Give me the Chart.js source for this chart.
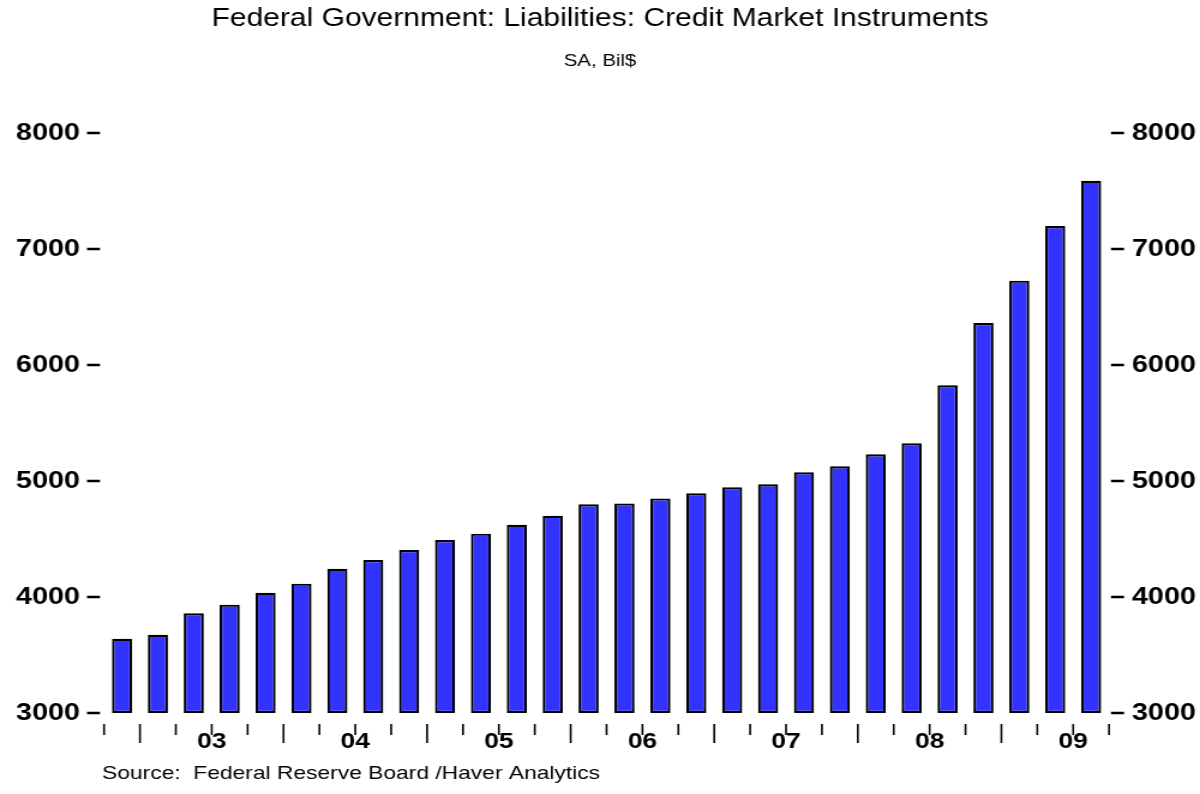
<html>
<head>
<title>Federal Government: Liabilities: Credit Market Instruments</title>
<meta charset="utf-8">
<script src="https://cdn.jsdelivr.net/npm/chart.js@4.4.0/dist/chart.umd.min.js"></script>
<style>
  body { margin: 0; background: #fff; overflow: hidden; }
  /* chart is laid out 1000px wide and widened to fill 1200px */
  #wrap { width: 1000px; height: 794px; transform: scaleX(1.2); transform-origin: 0 0; }
</style>
</head>
<body>
<div id="wrap"><canvas id="liabChart"></canvas></div>
<script>
// quarterly, SA, Bil$
var quarters = ['2002Q4',
  '2003Q1', '2003Q2', '2003Q3', '2003Q4',
  '2004Q1', '2004Q2', '2004Q3', '2004Q4',
  '2005Q1', '2005Q2', '2005Q3', '2005Q4',
  '2006Q1', '2006Q2', '2006Q3', '2006Q4',
  '2007Q1', '2007Q2', '2007Q3', '2007Q4',
  '2008Q1', '2008Q2', '2008Q3', '2008Q4',
  '2009Q1', '2009Q2', '2009Q3'];
var liabilities = [3640,
  3675, 3859, 3934, 4037,
  4115, 4244, 4319, 4405,
  4491, 4546, 4623, 4701,
  4799, 4807, 4850, 4894,
  4946, 4971, 5075, 5127,
  5230, 5325, 5825, 6362,
  6727, 7198, 7589];
var yearLabels = ['03', '04', '05', '06', '07', '08', '09'];
var yTicks = [3000, 4000, 5000, 6000, 7000, 8000];

var FONT = '"Liberation Sans", Arial, sans-serif';

// dashes next to the value labels, quarter ticks, year labels and source line
var axisMarks = {
  id: 'axisMarks',
  afterDraw: function(chart) {
    var ctx = chart.ctx, area = chart.chartArea;
    var x = chart.scales.x, y = chart.scales.y;
    ctx.save();
    ctx.strokeStyle = '#000';
    ctx.fillStyle = '#000';

    ctx.lineWidth = 2.6;
    yTicks.forEach(function(v) {
      var py = y.getPixelForValue(v);
      ctx.beginPath();
      ctx.moveTo(area.left - 14.2, py); ctx.lineTo(area.left - 3.4, py);
      ctx.moveTo(area.right + 1.6, py); ctx.lineTo(area.right + 12.5, py);
      ctx.stroke();
    });

    // quarter boundaries; the ones starting a year hang lower
    var w = x.getPixelForValue(1) - x.getPixelForValue(0);
    ctx.lineWidth = 1.6;
    for (var i = 0; i <= quarters.length; i++) {
      var bx = (i < quarters.length ? x.getPixelForValue(i) : x.getPixelForValue(i - 1) + w) - w / 2;
      var isQ1 = i < quarters.length && quarters[i].slice(4) == 'Q1';
      ctx.beginPath();
      ctx.moveTo(bx, 724);
      ctx.lineTo(bx, isQ1 ? 743 : 735);
      ctx.stroke();
    }

    // year label sits at mid-year (start of Q3)
    ctx.font = 'bold 22px ' + FONT;
    ctx.textAlign = 'center';
    ctx.textBaseline = 'alphabetic';
    yearLabels.forEach(function(yy) {
      var idx = quarters.indexOf('20' + yy + 'Q3');
      ctx.fillText(yy, x.getPixelForValue(idx) - w / 2, 748);
    });

    ctx.font = '19px ' + FONT;
    ctx.textAlign = 'left';
    ctx.fillText('Source:  Federal Reserve Board /Haver Analytics', 85, 779);
    ctx.restore();
  }
};

function plainNumber(v) { return String(v); }

var ctx = document.getElementById('liabChart').getContext('2d');
var liabChart = new Chart(ctx, {
  type: 'bar',
  data: {
    labels: quarters,
    datasets: [{
      label: 'Credit Market Instruments',
      data: liabilities,
      base: 3000,
      backgroundColor: '#3333ff',
      borderColor: '#000',
      borderWidth: 2.2,
      borderSkipped: false,
      barPercentage: 0.56,
      categoryPercentage: 1,
      clip: false
    }]
  },
  options: {
    responsive: true,
    maintainAspectRatio: false,
    animation: false,
    layout: { padding: 0 },
    plugins: {
      legend: { display: false },
      tooltip: { enabled: false },
      title: {
        display: true,
        text: 'Federal Government: Liabilities: Credit Market Instruments',
        color: '#000',
        font: { family: FONT, size: 25, weight: 'normal', lineHeight: 1.2 },
        padding: { top: 4, bottom: 17 }
      },
      subtitle: {
        display: true,
        text: 'SA, Bil$',
        color: '#000',
        font: { family: FONT, size: 17, weight: 'normal', lineHeight: 1.2 },
        padding: { top: 0, bottom: 61.6 }
      }
    },
    scales: {
      x: {
        offset: true,
        grid: { display: false },
        border: { display: false },
        ticks: { display: false },
        afterFit: function(s) { s.height = 81; }
      },
      y: {
        position: 'left',
        min: 3000, max: 8000,
        grid: { display: false, drawTicks: false },
        border: { display: false },
        ticks: { stepSize: 1000, padding: 20, color: '#000', callback: plainNumber,
                 font: { family: FONT, size: 24, weight: 'bold' } },
        afterFit: function(s) { s.width = 86.7; }
      },
      y2: {
        position: 'right',
        min: 3000, max: 8000,
        grid: { display: false, drawTicks: false },
        border: { display: false },
        ticks: { stepSize: 1000, padding: 19, color: '#000', callback: plainNumber,
                 font: { family: FONT, size: 24, weight: 'bold' } },
        afterFit: function(s) { s.width = 75.8; }
      }
    }
  },
  plugins: [axisMarks]
});
</script>
</body>
</html>
